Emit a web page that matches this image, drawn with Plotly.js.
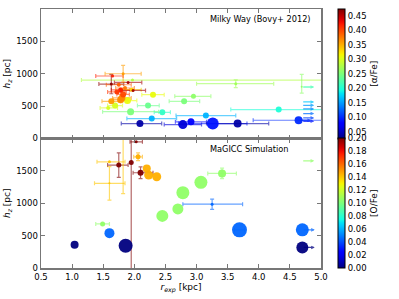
<!DOCTYPE html>
<html><head><meta charset="utf-8">
<script src="https://cdn.plot.ly/plotly-3.0.1.min.js"></script>
<style>html,body{margin:0;padding:0;background:#fff}#plot{width:399px;height:299px}</style>
</head><body><div id="plot"></div>
<script>
// ---------- Milky Way (Bovy+ 2012) : top panel ----------
const mwRexp  = [1.97,3.63,4.69,2.09,2.78,2.91,3.26,3.66,4.64,2.28,3.15,4.32,2.45,1.94,2.22,2.95,2.80,2.30,1.89,1.69,1.58,1.63,1.78,1.80,1.82,1.78,1.96,1.98,1.63,1.90,1.65,1.82,1.75,1.72,1.85];
const mwHz    = [903,846,800,231,215,257,231,231,282,308,354,446,405,415,508,651,574,677,585,508,472,574,600,626,680,750,754,743,841,866,965,1000,830,720,780];
const mwAFe   = [0.28,0.27,0.26,0.04,0.06,0.08,0.09,0.04,0.10,0.16,0.16,0.20,0.21,0.25,0.24,0.26,0.25,0.31,0.31,0.30,0.30,0.36,0.37,0.37,0.40,0.42,0.33,0.46,0.47,0.46,0.42,0.36,0.39,0.41,0.38];
const mwSize  = [3,3,2,7,9,7,12,8,8,6,6,6,6,7,6,5,6,6,7,6,4,6,7,7,6,5,4,3,3,3,3,3,4,5,4];
const mwXerrM = [0.82,0.63,0,0.30,0.30,0.25,0.55,0.50,0.73,0.40,0.48,0.77,0.13,0.45,0.17,0.30,0.24,0.18,0.15,0.12,0.13,0.15,0.12,0.15,0.10,0.15,0.15,0.20,0.20,0.22,0.27,0.29,0.20,0.15,0.15];
const mwXerrP = [3.50,0.61,0,0.35,0.30,0.25,0.55,0.50,0.60,0.40,0.48,0.80,0.13,0.45,0.18,0.28,0.25,0.18,0.15,0.12,0.15,0.15,0.12,0.15,0.10,0.15,0.15,0.20,0.20,0.22,0.17,0.29,0.20,0.15,0.15];
const mwYerrM = [0,60,100,0,0,0,0,0,0,0,0,0,0,0,0,0,0,0,0,0,0,0,0,0,0,0,0,0,150,0,0,130,0,0,0];
const mwYerrP = [0,60,190,0,0,0,0,0,0,0,0,0,0,0,0,0,0,0,0,0,0,0,0,0,0,0,0,0,150,0,0,130,0,0,0];
// lower limits (arrows) in the top panel
const mwLimRexp = [4.69,4.69,4.69,4.69,4.69,4.69,4.69,4.64];
const mwLimHz   = [795,565,512,457,385,318,266,282];
const mwLimAFe  = [0.22,0.17,0.15,0.14,0.13,0.11,0.09,0.10];

// ---------- MaGICC Simulation : bottom panel ----------
const simRexp  = [1.04,1.86,1.60,1.49,1.95,2.06,2.20,2.23,2.36,1.75,2.10,2.03,1.60,1.60,1.82,2.45,2.70,2.78,3.07,3.41,3.25,3.69,4.70,4.70];
const simHz    = [358,343,538,681,1631,1717,1538,1435,1409,1589,1471,1948,1640,1307,1600,805,912,1163,1323,1461,985,589,589,317];
const simOFe   = [0.0,0.0,0.045,0.105,0.20,0.145,0.145,0.145,0.145,0.20,0.20,0.20,0.14,0.14,0.14,0.105,0.105,0.105,0.105,0.105,0.045,0.045,0.045,0.0];
const simSize  = [8,14,10,5,5,5,8,9,9,5,6,3,3,2,1,12,11,13,13,8,3,15,13,12];
const simXerrM = [0,0,0,0.11,0,0.07,0,0,0,0.18,0.12,0.10,0.20,0.24,0,0,0,0,0,0.23,0.47,0.08,0,0];
const simXerrP = [0,0,0,0.11,0,0.07,0,0,0,0.15,0.20,0.10,0.25,0.25,0,0,0,0,0,0.23,0.49,0.08,0,0];
const simYerrM = [0,0,0,0,1700,60,0,0,0,190,90,0,0,260,450,0,0,0,0,80,80,0,0,0];
const simYerrP = [0,0,0,0,500,60,0,0,0,190,90,0,0,260,450,0,0,0,0,80,80,0,0,0];
const simLimRexp = [4.70,4.70,4.69];
const simLimHz   = [589,317,1655];
const simLimOFe  = [0.045,0.0,0.105];

const xTicks = [0.5,1.0,1.5,2.0,2.5,3.0,3.5,4.0,4.5,5.0];
const yTicks = [0,500,1000,1500];
const afeTicks = [0.05,0.10,0.15,0.20,0.25,0.30,0.35,0.40,0.45];
const ofeTicks = [0.00,0.02,0.04,0.06,0.08,0.10,0.12,0.14,0.16,0.18,0.20];

// ---------- jet colormap (matplotlib) ----------
const JR=[[0,0],[0.35,0],[0.66,1],[0.89,1],[1,0.5]];
const JG=[[0,0],[0.125,0],[0.375,1],[0.64,1],[0.91,0],[1,0]];
const JB=[[0,0.5],[0.11,1],[0.34,1],[0.65,0],[1,0]];
function interp(p,t){for(let i=1;i<p.length;i++){if(t<=p[i][0]){const a=p[i-1],b=p[i];return a[1]+(b[1]-a[1])*(t-a[0])/(b[0]-a[0]);}}return p[p.length-1][1];}
function jetRGB(t){t=Math.max(0,Math.min(1,t));return [interp(JR,t),interp(JG,t),interp(JB,t)].map(v=>Math.round(v*255));}
const jetScale=[];for(let i=0;i<=40;i++){const t=i/40;jetScale.push([t,'rgb('+jetRGB(t).join(',')+')']);}
function col(v,cmin,cmax,a){const c=jetRGB((v-cmin)/(cmax-cmin));return 'rgba('+c.join(',')+','+a+')';}

const FONT='DejaVu Sans';
const traces=[];const annotations=[];
function panel(X,H,C,S,exm,exp,eym,eyp,limX,limH,limC,cmin,cmax,xa,ya,cb){
  for(let i=0;i<X.length;i++){
    const hasX=(exm[i]+exp[i])>0, hasY=(eym[i]+eyp[i])>0;
    if(!hasX&&!hasY)continue;
    const ec=col(C[i],cmin,cmax,0.6);
    traces.push({type:'scatter',mode:'markers',x:[X[i]],y:[H[i]],xaxis:xa,yaxis:ya,showlegend:false,hoverinfo:'skip',
      marker:{size:1,opacity:0},
      error_x:{visible:hasX,type:'data',symmetric:false,array:[exp[i]],arrayminus:[exm[i]],color:ec,thickness:1.2,width:2},
      error_y:{visible:hasY,type:'data',symmetric:false,array:[eyp[i]],arrayminus:[eym[i]],color:ec,thickness:1.2,width:2}});
  }
  traces.push({type:'scatter',mode:'markers',x:X,y:H,xaxis:xa,yaxis:ya,showlegend:false,
    marker:{size:S,color:C,cmin:cmin,cmax:cmax,colorscale:jetScale,opacity:0.95,line:{width:0},showscale:true,colorbar:cb}});
  for(let i=0;i<limX.length;i++){
    annotations.push({xref:xa,yref:ya,axref:xa,ayref:ya,x:limX[i]+0.2,y:limH[i],ax:limX[i],ay:limH[i],
      showarrow:true,arrowhead:2,arrowsize:0.55,arrowwidth:1.3,arrowcolor:col(limC[i],cmin,cmax,0.75),text:''});
  }
}
const cbBase={thickness:7,len:0.5,lenmode:'fraction',x:1.06,xanchor:'left',xpad:0,ypad:0,yanchor:'middle',
  outlinewidth:1,outlinecolor:'#000',ticks:'',tickfont:{family:FONT,size:8.5,color:'#000'}};
panel(mwRexp,mwHz,mwAFe,mwSize,mwXerrM,mwXerrP,mwYerrM,mwYerrP,mwLimRexp,mwLimHz,mwLimAFe,0.025,0.475,'x2','y2',
  Object.assign({},cbBase,{y:0.75,tickvals:afeTicks,tickformat:'.2f',title:{text:'[α/Fe]',side:'right',font:{family:FONT,size:9}}}));
panel(simRexp,simHz,simOFe,simSize,simXerrM,simXerrP,simYerrM,simYerrP,simLimRexp,simLimHz,simLimOFe,0,0.2,'x','y',
  Object.assign({},cbBase,{y:0.25,tickvals:ofeTicks,tickformat:'.2f',title:{text:'[O/Fe]',side:'right',font:{family:FONT,size:9}}}));

annotations.push({xref:'paper',yref:'paper',x:0.597,y:0.96,xanchor:'left',yanchor:'middle',showarrow:false,text:'Milky Way (Bovy+ 2012)',font:{family:FONT,size:8.2,color:'#000'}});
annotations.push({xref:'paper',yref:'paper',x:0.597,y:0.46,xanchor:'left',yanchor:'middle',showarrow:false,text:'MaGICC Simulation',font:{family:FONT,size:8.2,color:'#000'}});

const axLine={showline:true,linecolor:'#777',linewidth:1.5,mirror:'allticks',ticks:'inside',ticklen:4,tickcolor:'#777',tickwidth:1,showgrid:false,zeroline:false,tickfont:{family:FONT,size:8.5,color:'#000'}};
const layout={width:399,height:299,margin:{l:41,r:78,t:9,b:31},paper_bgcolor:'#fff',plot_bgcolor:'#fff',
  font:{family:FONT,size:8.5,color:'#000'},showlegend:false,annotations:annotations,
  xaxis:Object.assign({},axLine,{range:[0.5,5.0],anchor:'y',tickvals:xTicks,ticktext:xTicks.map(v=>v.toFixed(1)),
    title:{text:'<i>r<sub>exp</sub></i> [kpc]',font:{family:FONT,size:9},standoff:2}}),
  xaxis2:Object.assign({},axLine,{range:[0.5,5.0],anchor:'y2',matches:'x',tickvals:xTicks,showticklabels:false}),
  yaxis:Object.assign({},axLine,{domain:[0,0.5],range:[0,2000],anchor:'x',tickvals:yTicks,
    title:{text:'<i>h<sub>z</sub></i> [pc]',font:{family:FONT,size:9},standoff:4}}),
  yaxis2:Object.assign({},axLine,{domain:[0.5,1],range:[0,2000],anchor:'x2',tickvals:yTicks,
    title:{text:'<i>h<sub>z</sub></i> [pc]',font:{family:FONT,size:9},standoff:4}})
};
Plotly.newPlot('plot',traces,layout,{staticPlot:true,displayModeBar:false});
</script></body></html>
